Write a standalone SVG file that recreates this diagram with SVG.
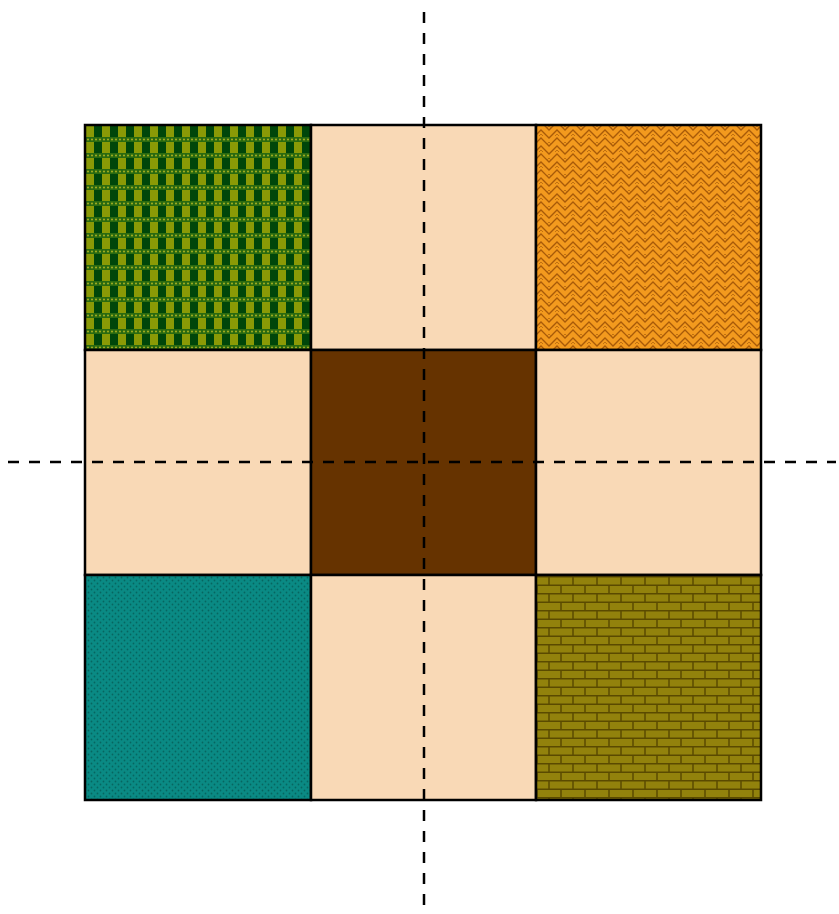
<svg xmlns="http://www.w3.org/2000/svg" width="839" height="914" viewBox="0 0 839 914">
<style>
.cell{stroke:#000;stroke-width:2.5}
.peach{fill:#f9d9b6}
.dash{stroke:#000;stroke-width:2.5;stroke-dasharray:11 10;fill:none}
</style>
<defs>
<pattern id="pGreen" width="16" height="16" patternUnits="userSpaceOnUse" x="86" y="126">
<rect width="16" height="16" fill="#8a9a06"/>
<rect x="8" y="0" width="8" height="11" fill="#00460a"/>
<rect x="0" y="11" width="16" height="5" fill="#2a6a10"/>
<circle cx="2" cy="13.5" r="1" fill="#a8b020"/>
<circle cx="6" cy="13.5" r="1" fill="#a8b020"/>
<circle cx="10" cy="13.5" r="1" fill="#a8b020"/>
<circle cx="14" cy="13.5" r="1" fill="#a8b020"/>
</pattern>
<pattern id="pOrange" width="16" height="16" patternUnits="userSpaceOnUse" x="537" y="126">
<rect width="16" height="16" fill="#f39a1e"/>
<path d="M-4 12 L4 4 L12 12 L20 4 M-4 20 L4 12 L12 20 L20 12 M-4 4 L4 -4 L12 4 L20 -4" stroke="#a85a08" stroke-width="1.3" fill="none"/>
<path d="M2 10 L4 8 L6 10 M10 2 L12 0 L14 2 M10 18 L12 16 L14 18" stroke="#c07010" stroke-width="1" fill="none"/>
</pattern>
<pattern id="pTeal" width="6" height="6" patternUnits="userSpaceOnUse">
<rect width="6" height="6" fill="#0a8a84"/>
<circle cx="1.5" cy="1.5" r="0.9" fill="#066660"/>
<circle cx="4.5" cy="4.5" r="0.9" fill="#066660"/>
</pattern>
<pattern id="pBrick" width="24" height="17" patternUnits="userSpaceOnUse" x="537" y="576">
<rect width="24" height="17" fill="#92820c"/>
<path d="M0 0.75 H24 M0 9.25 H24 M12 0 V8.5 M0 8.5 V17 M24 8.5 V17" stroke="#5a4a00" stroke-width="1.5" fill="none"/>
</pattern>
</defs>
<g id="cell-tl"><rect class="cell" x="85" y="125" width="226" height="225" fill="url(#pGreen)"/></g>
<g id="cell-tc"><rect class="cell peach" x="311" y="125" width="225" height="225"/></g>
<g id="cell-tr"><rect class="cell" x="536" y="125" width="225" height="225" fill="url(#pOrange)"/></g>
<g id="cell-ml"><rect class="cell peach" x="85" y="350" width="226" height="225"/></g>
<g id="cell-mc"><rect class="cell" x="311" y="350" width="225" height="225" fill="#663300"/></g>
<g id="cell-mr"><rect class="cell peach" x="536" y="350" width="225" height="225"/></g>
<g id="cell-bl"><rect class="cell" x="85" y="575" width="226" height="225" fill="url(#pTeal)"/></g>
<g id="cell-bc"><rect class="cell peach" x="311" y="575" width="225" height="225"/></g>
<g id="cell-br"><rect class="cell" x="536" y="575" width="225" height="225" fill="url(#pBrick)"/></g>
<g id="connectors">
<line class="dash" x1="424" y1="12" x2="424" y2="914"/>
<line class="dash" x1="8" y1="462" x2="836" y2="462"/>
</g>
</svg>
